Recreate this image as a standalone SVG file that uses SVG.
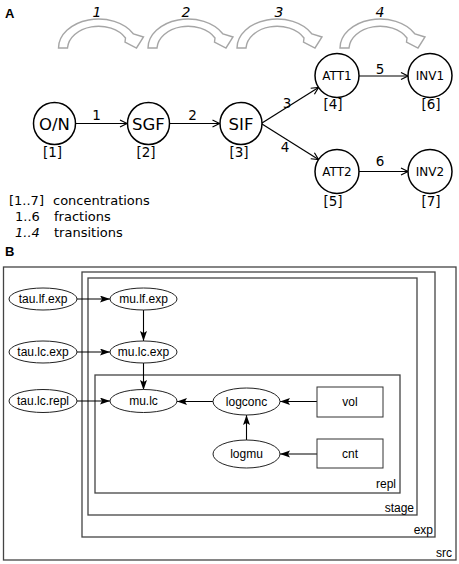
<svg xmlns="http://www.w3.org/2000/svg" width="459" height="564" viewBox="0 0 459 564">
<defs>
<style>
.panel{font-family:"Liberation Sans",Arial,sans-serif;font-weight:bold;font-size:13px;fill:#000}
.ca{fill:#fff;stroke:#000;stroke-width:1.5}
.ta{font-family:"DejaVu Sans",Verdana,sans-serif;fill:#000;text-anchor:middle}
.big{font-size:16.5px}
.sm{font-size:12px}
.num{font-size:13.5px}
.leg{font-family:"DejaVu Sans",Verdana,sans-serif;font-size:13px;fill:#000}
.tr{fill:#fff;stroke:#a6a6a6;stroke-width:1.4;stroke-linejoin:miter}
.ea{fill:none;stroke:#000;stroke-width:1.2}
.box{fill:none;stroke:#444;stroke-width:1.3}
.el{fill:#fff;stroke:#222;stroke-width:1}
.rb{fill:#fff;stroke:#333;stroke-width:1}
.tb{font-family:"Liberation Sans",Arial,sans-serif;font-size:12px;fill:#000;text-anchor:middle}
.bl{font-family:"Liberation Sans",Arial,sans-serif;font-size:12px;fill:#000;text-anchor:end}
.eb{fill:none;stroke:#000;stroke-width:1.1}
</style>
<marker id="open" markerUnits="userSpaceOnUse" markerWidth="10" markerHeight="10" refX="7" refY="3.5" orient="auto" viewBox="-1 -1 10 10">
<path d="M0,0 L7,3.5 L0,7" fill="none" stroke="#000" stroke-width="1.2"/>
</marker>
<marker id="solid" markerUnits="userSpaceOnUse" markerWidth="12" markerHeight="10" refX="10" refY="3.5" orient="auto" viewBox="0 0 12 10">
<path d="M0,0 L10,3.5 L0,7 L2,3.5 Z" fill="#000"/>
</marker>
<path id="arc" d="M0,48 A40,29 0 0 1 75,34 L85,37 L78,48 L66.5,42 L67,38 A31,23 0 0 0 9,48 Z"/>
</defs>

<!-- Panel A -->
<text class="panel" x="5" y="18">A</text>

<g id="transitions">
<use href="#arc" class="tr" x="58.5" y="0"/>
<use href="#arc" class="tr" x="148" y="0"/>
<use href="#arc" class="tr" x="237" y="0"/>
<use href="#arc" class="tr" x="340" y="0"/>
<text class="ta" x="97" y="17" font-size="14" font-style="italic">1</text>
<text class="ta" x="186" y="17" font-size="14" font-style="italic">2</text>
<text class="ta" x="279" y="17" font-size="14" font-style="italic">3</text>
<text class="ta" x="380" y="17" font-size="14" font-style="italic">4</text>
</g>

<g id="connectors-a">
<path class="ea" d="M75.5,123.5 H127" marker-end="url(#open)"/>
<path class="ea" d="M169.5,123.5 H219.5" marker-end="url(#open)"/>
<path class="ea" d="M262,123 L318.5,87.5" marker-end="url(#open)"/>
<path class="ea" d="M262,124 L318.5,159.5" marker-end="url(#open)"/>
<path class="ea" d="M359,76 H408" marker-end="url(#open)"/>
<path class="ea" d="M359,171.5 H408" marker-end="url(#open)"/>
<text class="ta num" x="96.5" y="120">1</text>
<text class="ta num" x="192.5" y="120">2</text>
<text class="ta num" x="287" y="108">3</text>
<text class="ta num" x="285" y="152">4</text>
<text class="ta num" x="380" y="74">5</text>
<text class="ta num" x="380" y="166">6</text>
</g>

<g id="node-ON">
<circle class="ca" cx="54.5" cy="123.5" r="21"/>
<text class="ta big" x="54.5" y="129.5">O/N</text>
<text class="ta num" x="52.5" y="157">[1]</text>
</g>
<g id="node-SGF">
<circle class="ca" cx="148.5" cy="123.5" r="21"/>
<text class="ta big" x="148.5" y="129.5">SGF</text>
<text class="ta num" x="146" y="157">[2]</text>
</g>
<g id="node-SIF">
<circle class="ca" cx="241" cy="123.5" r="21"/>
<text class="ta big" x="241" y="129.5">SIF</text>
<text class="ta num" x="239" y="157">[3]</text>
</g>
<g id="node-ATT1">
<circle class="ca" cx="337" cy="75.5" r="22"/>
<text class="ta sm" x="337" y="80">ATT1</text>
<text class="ta num" x="333" y="109">[4]</text>
</g>
<g id="node-INV1">
<circle class="ca" cx="430" cy="75.5" r="22"/>
<text class="ta sm" x="430" y="80">INV1</text>
<text class="ta num" x="431" y="109">[6]</text>
</g>
<g id="node-ATT2">
<circle class="ca" cx="337" cy="171.5" r="22"/>
<text class="ta sm" x="337" y="176">ATT2</text>
<text class="ta num" x="333" y="206">[5]</text>
</g>
<g id="node-INV2">
<circle class="ca" cx="430" cy="171.5" r="22"/>
<text class="ta sm" x="430" y="176">INV2</text>
<text class="ta num" x="431" y="206">[7]</text>
</g>

<g id="legend">
<text class="leg" x="9" y="205">[1..7]</text>
<text class="leg" x="53" y="205">concentrations</text>
<text class="leg" x="15" y="221">1..6</text>
<text class="leg" x="54" y="221">fractions</text>
<text class="leg" x="15" y="237" font-style="italic">1..4</text>
<text class="leg" x="54" y="237">transitions</text>
</g>

<!-- Panel B -->
<text class="panel" x="5" y="256">B</text>

<g id="box-src">
<rect class="box" x="3.5" y="267" width="452.5" height="293"/>
<text class="bl" x="452" y="557">src</text>
</g>
<g id="box-exp">
<rect class="box" x="82" y="272" width="353" height="265"/>
<text class="bl" x="433" y="534">exp</text>
</g>
<g id="box-stage">
<rect class="box" x="88" y="278" width="329" height="237"/>
<text class="bl" x="414" y="512">stage</text>
</g>
<g id="box-repl">
<rect class="box" x="95" y="375" width="305" height="118"/>
<text class="bl" x="396" y="488">repl</text>
</g>

<g id="connectors-b">
<path class="eb" d="M77,299 H110" marker-end="url(#solid)"/>
<path class="eb" d="M77,352 H110" marker-end="url(#solid)"/>
<path class="eb" d="M77,401 H110" marker-end="url(#solid)"/>
<path class="eb" d="M143.5,310 V341" marker-end="url(#solid)"/>
<path class="eb" d="M143.5,363 V390" marker-end="url(#solid)"/>
<path class="eb" d="M213,401.5 H177" marker-end="url(#solid)"/>
<path class="eb" d="M317,401.5 H280" marker-end="url(#solid)"/>
<path class="eb" d="M317,454 H280" marker-end="url(#solid)"/>
<path class="eb" d="M246.5,440 V415" marker-end="url(#solid)"/>
</g>

<g id="node-tau-lf-exp">
<ellipse class="el" cx="43" cy="299" rx="34" ry="11"/>
<text class="tb" x="43" y="303">tau.lf.exp</text>
</g>
<g id="node-tau-lc-exp">
<ellipse class="el" cx="43" cy="352" rx="34" ry="11"/>
<text class="tb" x="43" y="356">tau.lc.exp</text>
</g>
<g id="node-tau-lc-repl">
<ellipse class="el" cx="43" cy="401" rx="34" ry="11.5"/>
<text class="tb" x="43" y="405">tau.lc.repl</text>
</g>
<g id="node-mu-lf-exp">
<ellipse class="el" cx="143.5" cy="299" rx="33.5" ry="11"/>
<text class="tb" x="143.5" y="303">mu.lf.exp</text>
</g>
<g id="node-mu-lc-exp">
<ellipse class="el" cx="143.5" cy="352" rx="33.5" ry="11"/>
<text class="tb" x="143.5" y="356">mu.lc.exp</text>
</g>
<g id="node-mu-lc">
<ellipse class="el" cx="143.5" cy="401" rx="33.5" ry="11.5"/>
<text class="tb" x="143.5" y="405">mu.lc</text>
</g>
<g id="node-logconc">
<ellipse class="el" cx="246.5" cy="401.5" rx="33.5" ry="13.5"/>
<text class="tb" x="246.5" y="405.5">logconc</text>
</g>
<g id="node-logmu">
<ellipse class="el" cx="246.5" cy="454" rx="33.5" ry="14"/>
<text class="tb" x="246.5" y="458">logmu</text>
</g>
<g id="node-vol">
<rect class="rb" x="317" y="387" width="66" height="30"/>
<text class="tb" x="350" y="406">vol</text>
</g>
<g id="node-cnt">
<rect class="rb" x="317" y="439" width="66" height="29"/>
<text class="tb" x="350" y="458">cnt</text>
</g>
</svg>
